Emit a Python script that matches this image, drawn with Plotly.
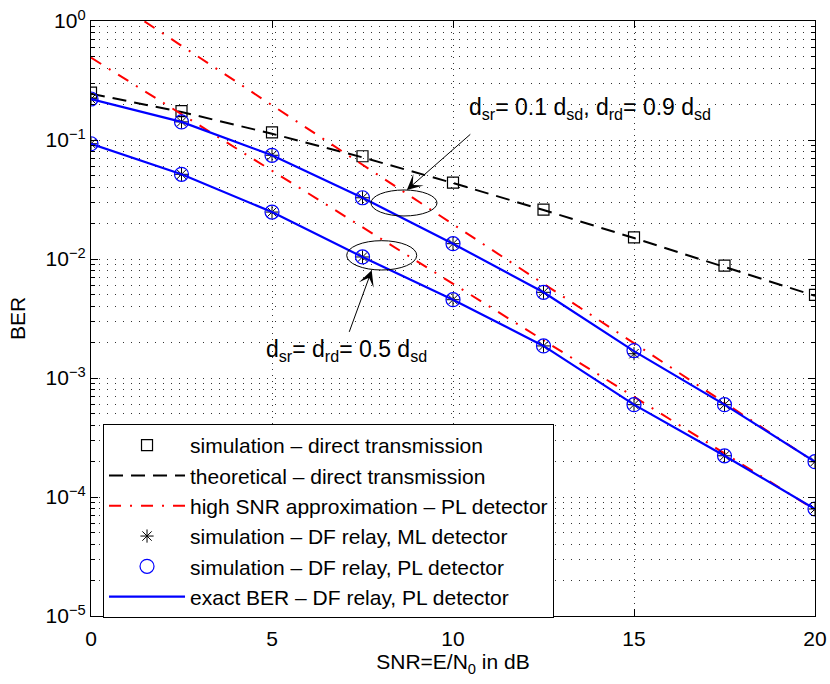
import plotly.graph_objects as go

# ---------------- data ----------------
snr_db = [0, 2.5, 5, 7.5, 10, 12.5, 15, 17.5, 20]

# direct transmission
direct_sim = [0.25, 0.175, 0.116, 0.073, 0.0438, 0.026, 0.0152, 0.0088, 0.0050]
direct_theory = [0.245, 0.172, 0.113, 0.0715, 0.0435, 0.0258, 0.0150, 0.0086, 0.0049]

# high SNR approximation - PL detector
approx_01 = [1.96, 0.619, 0.196, 0.0619, 0.0196, 0.00619, 0.00196, 0.000619, 0.000196]
approx_05 = [0.492, 0.165, 0.0552, 0.0185, 0.00619, 0.00207, 0.000695, 0.000233, 0.000078]

# simulation - DF relay, ML detector
ml_sim_01 = [0.221, 0.142, 0.0744, 0.0327, 0.01345, 0.00525, 0.00160, 0.000597, 0.000198]
ml_sim_05 = [0.093, 0.0515, 0.0248, 0.0104, 0.00455, 0.00186, 0.000597, 0.000222, 0.0000793]

# simulation - DF relay, PL detector
pl_sim_01 = [0.221, 0.142, 0.0744, 0.0327, 0.01345, 0.00525, 0.00170, 0.000597, 0.000198]
pl_sim_05 = [0.093, 0.0515, 0.0248, 0.0104, 0.00455, 0.00186, 0.000597, 0.000222, 0.0000793]

# exact BER - DF relay, PL detector
exact_01 = [0.221, 0.142, 0.0744, 0.0327, 0.01345, 0.00525, 0.00168, 0.000597, 0.000198]
exact_05 = [0.093, 0.0515, 0.0248, 0.0104, 0.00455, 0.00186, 0.000597, 0.000222, 0.0000793]

legend_names = [
    "simulation \u2013 direct transmission",
    "theoretical \u2013 direct transmission",
    "high SNR approximation \u2013 PL detector",
    "simulation \u2013 DF relay, ML detector",
    "simulation \u2013 DF relay, PL detector",
    "exact BER \u2013 DF relay, PL detector",
]

y_tick_vals = [1e-5, 1e-4, 1e-3, 1e-2, 1e-1, 1e0]
y_tick_text = ["10<sup>\u22125</sup>", "10<sup>\u22124</sup>", "10<sup>\u22123</sup>",
               "10<sup>\u22122</sup>", "10<sup>\u22121</sup>", "10<sup>0</sup>"]
x_tick_vals = [0, 5, 10, 15, 20]

# ---------------- helpers ----------------
def two(a, b):
    return snr_db + [None] + snr_db, a + [None] + b


FONT = "Liberation Sans, Arial, Helvetica, sans-serif"
GRID = "1px,7px"

fig = go.Figure()

fig.add_trace(go.Scatter(
    x=snr_db, y=direct_sim, mode="markers", name=legend_names[0],
    marker=dict(symbol="square-open", size=11, color="black", line=dict(width=1.2))))

fig.add_trace(go.Scatter(
    x=snr_db, y=direct_theory, mode="lines", name=legend_names[1],
    line=dict(color="black", width=2, dash="14px,8px")))

xx, yy = two(approx_01, approx_05)
fig.add_trace(go.Scatter(
    x=xx, y=yy, mode="lines", name=legend_names[2],
    line=dict(color="#ff0000", width=2, dash="12px,9px,2px,9px")))

xx, yy = two(ml_sim_01, ml_sim_05)
fig.add_trace(go.Scatter(
    x=xx, y=yy, mode="markers", name=legend_names[3],
    marker=dict(symbol="asterisk-open", size=11, color="black", line=dict(width=1, color="black"))))

xx, yy = two(pl_sim_01, pl_sim_05)
fig.add_trace(go.Scatter(
    x=xx, y=yy, mode="markers", name=legend_names[4],
    marker=dict(symbol="circle-open", size=14, color="#0000ff", line=dict(width=1.2))))

xx, yy = two(exact_01, exact_05)
fig.add_trace(go.Scatter(
    x=xx, y=yy, mode="lines", name=legend_names[5],
    line=dict(color="#0000ff", width=2.2)))

# ---------------- annotations (ellipses, arrows, labels) ----------------
fig.add_shape(type="circle", xref="paper", yref="paper",
              x0=0.3867, x1=0.4779, y0=0.6723, y1=0.716,
              line=dict(color="black", width=1))
fig.add_shape(type="circle", xref="paper", yref="paper",
              x0=0.3532, x1=0.4499, y0=0.5815, y1=0.6308,
              line=dict(color="black", width=1))

fig.add_annotation(xref="paper", yref="paper", x=0.4362, y=0.7159,
                   ax=65, ay=-57, text="", showarrow=True,
                   arrowhead=3, arrowsize=2.6, arrowwidth=1, arrowcolor="black",
                   standoff=0, startstandoff=0)
fig.add_annotation(xref="paper", yref="paper", x=0.3877, y=0.5809,
                   ax=-23, ay=63, text="", showarrow=True,
                   arrowhead=3, arrowsize=2.6, arrowwidth=1, arrowcolor="black",
                   standoff=0, startstandoff=0)

fig.add_annotation(xref="paper", yref="paper", x=0.520, y=0.853,
                   xanchor="left", yanchor="middle", showarrow=False,
                   text="d<sub>sr</sub>= 0.1 d<sub>sd</sub>, d<sub>rd</sub>= 0.9 d<sub>sd</sub>",
                   font=dict(family=FONT, size=23, color="black"))
fig.add_annotation(xref="paper", yref="paper", x=0.239, y=0.447,
                   xanchor="left", yanchor="middle", showarrow=False,
                   text="d<sub>sr</sub>= d<sub>rd</sub>= 0.5 d<sub>sd</sub>",
                   font=dict(family=FONT, size=23, color="black"))

# ---------------- layout ----------------
fig.update_layout(
    width=830, height=684,
    margin=dict(l=91, r=15, t=21, b=68, autoexpand=False),
    paper_bgcolor="white", plot_bgcolor="white",
    font=dict(family=FONT, size=21, color="black"),
    showlegend=True,
    legend=dict(x=0.0166, y=0.3227, xanchor="left", yanchor="top",
                bgcolor="white", bordercolor="black", borderwidth=1,
                font=dict(family=FONT, size=21, color="black"),
                itemwidth=76, tracegroupgap=0),
    xaxis=dict(
        range=[0, 20], tickmode="array", tickvals=x_tick_vals,
        ticks="inside", ticklen=7, tickcolor="black", tickwidth=1,
        showline=True, linecolor="black", linewidth=1.3, mirror="ticks",
        showgrid=True, gridcolor="#333333", gridwidth=1, griddash="1px,5px",
        zeroline=False, automargin=False, ticklabelstandoff=4,
        title=dict(text="SNR=E/N<sub>0</sub> in dB", standoff=4,
                   font=dict(family=FONT, size=21)),
        tickfont=dict(family=FONT, size=21),
    ),
    yaxis=dict(
        type="log", range=[-5, 0], tickmode="array",
        tickvals=y_tick_vals, ticktext=y_tick_text,
        ticks="inside", ticklen=7, tickcolor="black", tickwidth=1,
        showline=True, linecolor="black", linewidth=1.3, mirror="ticks",
        showgrid=True, gridcolor="#333333", gridwidth=1, griddash=GRID,
        zeroline=False, automargin=False,
        minor=dict(tickmode="array",
                   tickvals=[m * 10.0 ** e for e in range(-5, 0) for m in range(2, 10)],
                   ticks="inside", ticklen=4, tickcolor="black",
                   showgrid=True, gridcolor="#333333", gridwidth=1, griddash=GRID),
        title=dict(text="BER", standoff=14, font=dict(family=FONT, size=21)),
        tickfont=dict(family=FONT, size=21),
    ),
)

fig.write_html("out.html")
